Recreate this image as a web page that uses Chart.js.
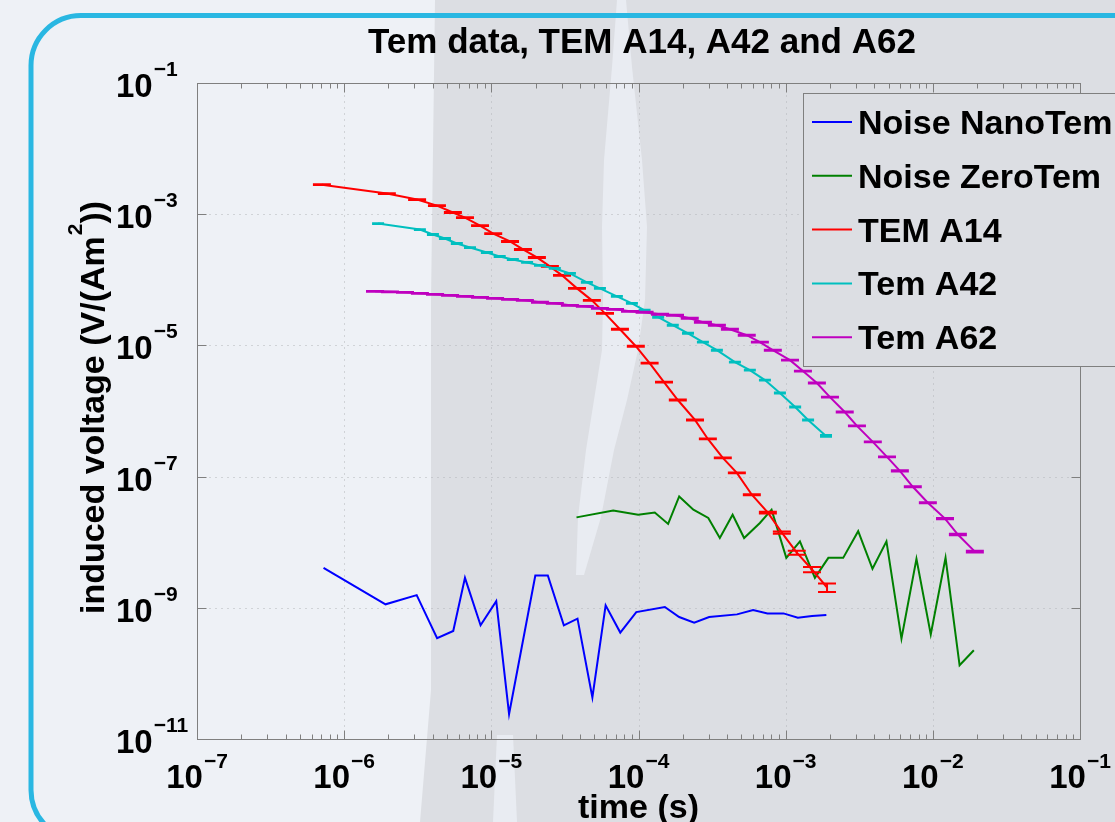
<!DOCTYPE html>
<html>
<head>
<meta charset="utf-8">
<title>Tem data, TEM A14, A42 and A62</title>
<script src="https://cdn.jsdelivr.net/npm/chart.js@4.4.1/dist/chart.umd.min.js"></script>
<style>
  html, body { margin: 0; padding: 0; background: #eef1f6; overflow: hidden; }
  canvas { display: block; }
</style>
</head>
<body>
<canvas id="temChart" width="1115" height="822"></canvas>
<script>
// values (time in s, induced voltage in V/(Am^2))
const nanoT = [7.24e-7, 1.91e-6, 3.11e-6, 4.28e-6, 5.51e-6, 6.62e-6, 8.45e-6, 1.08e-5, 1.32e-5, 1.99e-5,
               2.42e-5, 3.11e-5, 3.85e-5, 4.86e-5, 5.98e-5, 7.52e-5, 9.66e-5, 1.51e-4, 1.89e-4, 2.39e-4,
               3.02e-4, 4.67e-4, 6.01e-4, 7.52e-4, 9.66e-4, 1.21e-3, 1.51e-3, 1.89e-3];
const nanoV = [4.06e-9, 1.13e-9, 1.56e-9, 3.43e-10, 4.43e-10, 2.86e-9, 5.41e-10, 1.26e-9, 2.40e-11, 3.10e-9,
               3.10e-9, 5.41e-10, 6.83e-10, 4.31e-11, 1.09e-9, 4.19e-10, 8.61e-10, 1.03e-9, 7.23e-10, 5.94e-10,
               7.23e-10, 7.94e-10, 9.23e-10, 8.22e-10, 8.22e-10, 7.08e-10, 7.48e-10, 7.75e-10];

const zeroT = [3.79e-5, 6.73e-5, 9.95e-5, 1.29e-4, 1.59e-4, 1.89e-4, 2.36e-4, 2.98e-4, 3.57e-4, 4.36e-4,
               5.22e-4, 6.68e-4, 8.02e-4, 1.01e-3, 1.25e-3, 1.58e-3, 1.95e-3, 2.46e-3, 3.11e-3, 3.89e-3,
               4.84e-3, 6.12e-3, 7.74e-3, 9.68e-3, 1.22e-2, 1.52e-2, 1.90e-2];
const zeroV = [2.39e-8, 3.05e-8, 2.62e-8, 2.84e-8, 1.90e-8, 4.99e-8, 3.13e-8, 2.34e-8, 1.16e-8, 2.62e-8,
               1.16e-8, 1.96e-8, 3.13e-8, 5.77e-9, 1.03e-8, 2.86e-9, 5.77e-9, 5.77e-9, 1.47e-8, 3.93e-9,
               1.03e-8, 3.39e-10, 5.57e-9, 3.94e-10, 5.77e-9, 1.33e-10, 2.25e-10];

const a14T = [7.06e-7, 1.95e-6, 3.13e-6, 4.27e-6, 5.48e-6, 6.62e-6, 8.38e-6, 1.03e-5, 1.34e-5, 1.64e-5,
              2.04e-5, 2.50e-5, 3.02e-5, 3.82e-5, 4.82e-5, 5.92e-5, 7.48e-5, 9.59e-5, 1.19e-4, 1.49e-4,
              1.85e-4, 2.42e-4, 2.96e-4, 3.74e-4, 4.66e-4, 5.89e-4, 7.57e-4, 9.42e-4, 1.19e-3, 1.51e-3, 1.91e-3];
const a14V = [2.82e-3, 2.06e-3, 1.67e-3, 1.35e-3, 1.06e-3, 8.87e-4, 6.71e-4, 5.07e-4, 3.84e-4, 2.90e-4,
              2.19e-4, 1.60e-4, 1.17e-4, 7.40e-5, 4.86e-5, 3.08e-5, 1.76e-5, 9.72e-6, 5.36e-6, 2.76e-6,
              1.47e-6, 7.30e-7, 3.75e-7, 1.93e-7, 1.14e-7, 5.29e-8, 2.82e-8, 1.40e-8, 6.95e-9, 3.84e-9, 2.04e-9];
// relative error bar half-size
const a14Err = [0.015, 0.015, 0.015, 0.015, 0.015, 0.015, 0.015, 0.015, 0.015, 0.015,
                0.015, 0.015, 0.015, 0.015, 0.015, 0.015, 0.015, 0.015, 0.015, 0.015,
                0.015, 0.015, 0.015, 0.015, 0.015, 0.02, 0.03, 0.04, 0.07, 0.09, 0.15];

const a42T = [1.70e-6, 3.27e-6, 4.01e-6, 4.84e-6, 5.83e-6, 7.16e-6, 9.33e-6, 1.14e-5, 1.40e-5, 1.75e-5,
              2.14e-5, 2.70e-5, 3.42e-5, 4.46e-5, 5.47e-5, 7.13e-5, 9.02e-5, 1.10e-4, 1.36e-4, 1.71e-4,
              2.17e-4, 2.74e-4, 3.41e-4, 4.52e-4, 5.71e-4, 7.23e-4, 9.14e-4, 1.16e-3, 1.42e-3, 1.88e-3];
const a42V = [7.19e-4, 5.83e-4, 4.90e-4, 4.26e-4, 3.57e-4, 3.10e-4, 2.61e-4, 2.27e-4, 2.04e-4, 1.84e-4,
              1.66e-4, 1.49e-4, 1.25e-4, 9.12e-5, 7.40e-5, 5.60e-5, 4.38e-5, 3.43e-5, 2.69e-5, 2.03e-5,
              1.53e-5, 1.12e-5, 8.45e-6, 5.56e-6, 4.20e-6, 2.96e-6, 1.88e-6, 1.15e-6, 7.30e-7, 4.17e-7];
const a42Err = [0.015, 0.015, 0.015, 0.015, 0.015, 0.015, 0.015, 0.015, 0.015, 0.015,
                0.015, 0.015, 0.015, 0.015, 0.015, 0.015, 0.015, 0.015, 0.015, 0.015,
                0.015, 0.015, 0.015, 0.015, 0.015, 0.015, 0.015, 0.02, 0.02, 0.03];

const a62T = [1.62e-6, 2.05e-6, 2.59e-6, 3.27e-6, 4.14e-6, 5.24e-6, 6.62e-6, 8.38e-6, 1.06e-5, 1.34e-5,
              1.69e-5, 2.14e-5, 2.70e-5, 3.42e-5, 4.32e-5, 5.47e-5, 6.92e-5, 8.75e-5, 1.10e-4, 1.40e-4,
              1.77e-4, 2.23e-4, 2.74e-4, 3.41e-4, 4.18e-4, 5.44e-4, 6.68e-4, 8.18e-4, 1.07e-3, 1.31e-3,
              1.63e-3, 2.00e-3, 2.52e-3, 3.05e-3, 3.91e-3, 4.88e-3, 5.97e-3, 7.31e-3, 9.25e-3, 1.21e-2,
              1.48e-2, 1.93e-2];
const a62V = [6.67e-5, 6.55e-5, 6.44e-5, 6.21e-5, 6.00e-5, 5.79e-5, 5.60e-5, 5.41e-5, 5.21e-5, 5.04e-5,
              4.86e-5, 4.54e-5, 4.38e-5, 4.08e-5, 3.94e-5, 3.67e-5, 3.55e-5, 3.31e-5, 3.20e-5, 2.98e-5,
              2.88e-5, 2.59e-5, 2.25e-5, 2.03e-5, 1.76e-5, 1.43e-5, 1.12e-5, 8.45e-6, 5.96e-6, 4.06e-6,
              2.67e-6, 1.63e-6, 9.66e-7, 5.92e-7, 3.38e-7, 2.00e-7, 1.22e-7, 7.00e-8, 4.00e-8, 2.29e-8,
              1.31e-8, 7.19e-9];
const a62Err = [0.015, 0.015, 0.015, 0.015, 0.015, 0.015, 0.015, 0.015, 0.015, 0.015,
                0.015, 0.015, 0.015, 0.015, 0.015, 0.015, 0.015, 0.015, 0.015, 0.015,
                0.015, 0.015, 0.015, 0.015, 0.015, 0.015, 0.015, 0.015, 0.015, 0.015,
                0.015, 0.015, 0.015, 0.015, 0.015, 0.015, 0.02, 0.02, 0.02, 0.025,
                0.025, 0.03];

// decade exponents used for tick labels
const xTickExp = [-7, -6, -5, -4, -3, -2, -1];
const yTickExp = [-1, -3, -5, -7, -9, -11];

const FONT = '"Liberation Sans", Arial, Helvetica, sans-serif';
const BOX = '#7f7f7f';

const toPoints = (ts, vs) => ts.map((t, i) => ({ x: t, y: vs[i] }));

const series = (label, ts, vs, color, order, err, cap) => ({
    label: label,
    data: toPoints(ts, vs),
    borderColor: color,
    backgroundColor: color,
    showLine: true,
    borderWidth: 2,
    pointRadius: 0,
    order: order,
    errRel: err,
    capHalf: cap,
});

// slide backdrop + rounded frame
const slideBackground = {
    id: 'slideBackground',
    beforeDraw(chart) {
        const c = chart.ctx;
        const W = chart.width, H = chart.height;
        c.save();
        c.fillStyle = '#eef1f6';
        c.fillRect(0, 0, W, H);

        c.fillStyle = '#dcdee3';
        c.beginPath();
        c.moveTo(435, 0); c.lineTo(W, 0); c.lineTo(W, H); c.lineTo(420, H); c.lineTo(431, 690); c.lineTo(431, 300);
        c.closePath();
        c.fill();

        // bright streak
        c.fillStyle = '#e9ecf2';
        c.beginPath();
        const left = [[617, 0], [612, 67], [604, 160], [602, 227], [603, 300], [602, 350], [594, 400], [586, 450], [578, 517], [576, 575]];
        const right = [[584, 575], [601, 517], [614, 450], [627, 400], [638, 350], [645, 300], [647, 227], [642, 160], [632, 67], [626, 0]];
        left.concat(right).forEach(([px, py], i) => (i ? c.lineTo(px, py) : c.moveTo(px, py)));
        c.closePath();
        c.fill();
        c.beginPath();
        c.moveTo(497, 735); c.lineTo(513, 735); c.lineTo(517, H); c.lineTo(493, H);
        c.closePath();
        c.fill();

        // rounded frame
        const fx = 31, fy = 15.5, fr = 50, fb = 840, fR = 1200;
        c.strokeStyle = '#29b7e2';
        c.lineWidth = 5;
        c.beginPath();
        c.moveTo(fR, fy);
        c.lineTo(fx + fr, fy);
        c.arcTo(fx, fy, fx, fy + fr, fr);
        c.lineTo(fx, fb - fr);
        c.arcTo(fx, fb, fx + fr, fb, fr);
        c.lineTo(fR, fb);
        c.stroke();
        c.restore();
    },
};

function drawPower(c, exp, x0, base, raise) {
    c.font = `bold 33px ${FONT}`;
    c.fillText('10', x0, base);
    const wb = c.measureText('10').width;
    c.font = `bold 21px ${FONT}`;
    c.fillText('\u2212' + Math.abs(exp), x0 + wb + 1, base - raise);
}

function powerWidth(c, exp) {
    c.font = `bold 33px ${FONT}`;
    const wb = c.measureText('10').width;
    c.font = `bold 21px ${FONT}`;
    return wb + 1 + c.measureText('\u2212' + Math.abs(exp)).width;
}

// MATLAB-like box, ticks, dotted grid and labels
const matlabAxes = {
    id: 'matlabAxes',
    beforeDatasetsDraw(chart) {
        const { ctx: c, chartArea: a, scales: { x, y } } = chart;
        const L = Math.round(a.left) + 0.5, R = Math.round(a.right) + 0.5;
        const T = Math.round(a.top) + 0.5, B = Math.round(a.bottom) + 0.5;
        c.save();

        c.strokeStyle = '#b2b4b8';
        c.lineWidth = 1;
        c.setLineDash([1, 5]);
        xTickExp.forEach(e => {
            const px = Math.round(x.getPixelForValue(10 ** e)) + 0.5;
            if (px > L + 2 && px < R - 2) {
                c.beginPath(); c.moveTo(px, T); c.lineTo(px, B); c.stroke();
            }
        });
        yTickExp.forEach(e => {
            const py = Math.round(y.getPixelForValue(10 ** e)) + 0.5;
            if (py > T + 2 && py < B - 2) {
                c.beginPath(); c.moveTo(L, py); c.lineTo(R, py); c.stroke();
            }
        });
        c.setLineDash([]);

        c.strokeStyle = BOX;
        c.strokeRect(L, T, R - L, B - T);

        // x ticks, decades plus 2..9 minors, on top and bottom
        c.beginPath();
        xTickExp.forEach(e => {
            for (let m = 1; m <= 9; m++) {
                const v = m * 10 ** e;
                if (v > x.max * 1.0001) break;
                const px = Math.round(x.getPixelForValue(v)) + 0.5;
                const len = m === 1 ? 9 : 5;
                c.moveTo(px, B); c.lineTo(px, B - len);
                c.moveTo(px, T); c.lineTo(px, T + len);
            }
        });
        yTickExp.forEach(e => {
            const py = Math.round(y.getPixelForValue(10 ** e)) + 0.5;
            c.moveTo(L, py); c.lineTo(L + 9, py);
            c.moveTo(R, py); c.lineTo(R - 9, py);
        });
        c.stroke();

        // tick labels
        c.fillStyle = '#000';
        c.textAlign = 'left';
        c.textBaseline = 'alphabetic';
        xTickExp.forEach(e => {
            const px = x.getPixelForValue(10 ** e);
            drawPower(c, e, px - powerWidth(c, e) / 2, 788, 20);
        });
        yTickExp.forEach(e => {
            const py = y.getPixelForValue(10 ** e);
            drawPower(c, e, 116, py + 14, 21);
        });

        // title and axis titles
        c.textAlign = 'center';
        c.font = `bold 35px ${FONT}`;
        c.fillText('Tem data, TEM A14, A42 and A62', 642, 53);
        c.font = `bold 34px ${FONT}`;
        c.fillText('time (s)', (a.left + a.right) / 2, 818);

        c.translate(104, 408);
        c.rotate(-Math.PI / 2);
        c.textAlign = 'left';
        const p1 = 'induced voltage (V/(Am', p2 = '2', p3 = '))';
        c.font = `bold 34px ${FONT}`;
        const w1 = c.measureText(p1).width, w3 = c.measureText(p3).width;
        c.font = `bold 21px ${FONT}`;
        const w2 = c.measureText(p2).width;
        const sx = -(w1 + w2 + w3) / 2;
        c.font = `bold 34px ${FONT}`;
        c.fillText(p1, sx, 0);
        c.fillText(p3, sx + w1 + w2 + 1, 0);
        c.font = `bold 21px ${FONT}`;
        c.fillText(p2, sx + w1 + 1, -22);
        c.restore();
    },
};

// vertical error bars with caps, drawn with each series
const errorBars = {
    id: 'errorBars',
    afterDatasetDraw(chart, args) {
        const ds = chart.data.datasets[args.index];
        if (!ds.errRel) return;
        const { ctx: c, chartArea: a, scales: { x, y } } = chart;
        const h = ds.capHalf;
        c.save();
        c.beginPath();
        c.rect(a.left, a.top, a.right - a.left, a.bottom - a.top);
        c.clip();
        c.strokeStyle = ds.borderColor;
        c.lineWidth = 2;
        c.beginPath();
        ds.data.forEach((p, i) => {
            const e = ds.errRel[i];
            const px = x.getPixelForValue(p.x);
            const yHi = y.getPixelForValue(p.y * (1 + e));
            const yLo = y.getPixelForValue(p.y * (1 - e));
            c.moveTo(px, yHi); c.lineTo(px, yLo);
            c.moveTo(px - h, yHi); c.lineTo(px + h, yHi);
            c.moveTo(px - h, yLo); c.lineTo(px + h, yLo);
        });
        c.stroke();
        c.restore();
    },
};

// legend box in the upper right, partly cut off by the slide edge
const boxLegend = {
    id: 'boxLegend',
    afterDraw(chart) {
        const c = chart.ctx;
        c.save();
        c.fillStyle = '#dcdee3';
        c.fillRect(803.5, 93.5, 400, 273);
        c.strokeStyle = BOX;
        c.lineWidth = 1;
        c.strokeRect(803.5, 93.5, 400, 273);
        c.font = `bold 34px ${FONT}`;
        c.textAlign = 'left';
        c.textBaseline = 'alphabetic';
        chart.data.datasets.forEach((ds, i) => {
            const ry = 122 + i * 53.8;
            c.strokeStyle = ds.borderColor;
            c.lineWidth = 2;
            c.beginPath(); c.moveTo(812, ry); c.lineTo(852, ry); c.stroke();
            c.fillStyle = '#000';
            c.fillText(ds.label, 858, ry + 12);
        });
        c.restore();
    },
};

const ctx = document.getElementById('temChart').getContext('2d');
new Chart(ctx, {
    type: 'scatter',
    data: {
        datasets: [
            series('Noise NanoTem', nanoT, nanoV, '#0000ff', 5),
            series('Noise ZeroTem', zeroT, zeroV, '#008000', 4),
            series('TEM A14', a14T, a14V, '#ff0000', 3, a14Err, 9),
            series('Tem A42', a42T, a42V, '#00bfbf', 2, a42Err, 6),
            series('Tem A62', a62T, a62V, '#bf00bf', 1, a62Err, 9),
        ],
    },
    options: {
        responsive: false,
        animation: false,
        events: [],
        layout: { padding: { left: 197, top: 83, right: 35, bottom: 83 } },
        scales: {
            x: { type: 'logarithmic', min: 1e-7, max: 1e-1, display: false },
            y: { type: 'logarithmic', min: 1e-11, max: 1e-1, display: false },
        },
        plugins: {
            legend: { display: false },
            title: { display: false },
            tooltip: { enabled: false },
        },
    },
    plugins: [slideBackground, matlabAxes, errorBars, boxLegend],
});
</script>
</body>
</html>
